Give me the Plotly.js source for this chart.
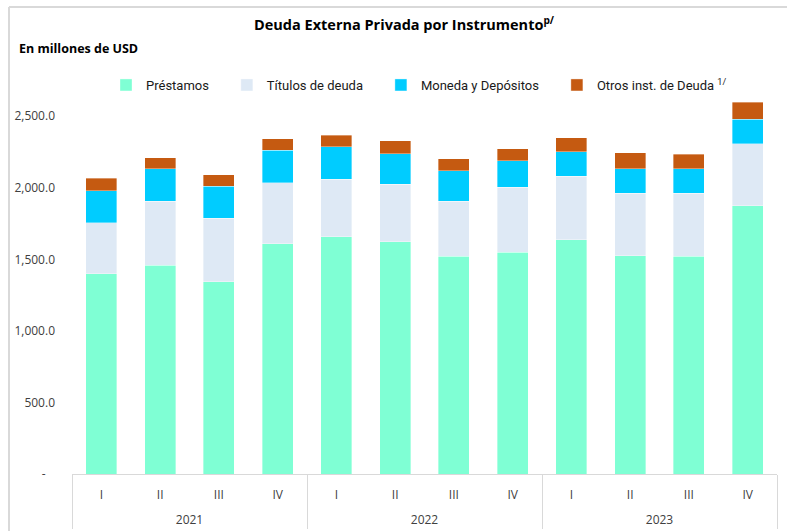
<!DOCTYPE html>
<html>
<head>
<meta charset="utf-8">
<script src="https://cdn.plot.ly/plotly-3.0.1.min.js"></script>
<style>html,body{margin:0;padding:0;background:#fff;}#chart{width:787px;height:531px;}</style>
</head>
<body>
<div id="chart"></div>
<script>
const years = ["2021","2021","2021","2021","2022","2022","2022","2022","2023","2023","2023","2023"];
const quarters = ["I","II","III","IV","I","II","III","IV","I","II","III","IV"];
const prestamos = [1400, 1458, 1344, 1610, 1658, 1624, 1521, 1549, 1638, 1524, 1521, 1873];
const titulos   = [356, 447, 442, 426, 403, 400, 384, 456, 442, 439, 442, 433];
const moneda    = [224, 226, 226, 225, 226, 212, 214, 184, 170, 168, 168, 174];
const otros     = [88, 79, 79, 82, 79, 93, 84, 84, 98, 112, 102, 119];
const seriesNames = ["Préstamos", "Títulos de deuda", "Moneda y Depósitos", "Otros inst. de Deuda <sup>1/</sup>"];
const yTickVals = [0, 500, 1000, 1500, 2000, 2500];
const yTickText = ["-\u00a0\u00a0\u00a0", "500.0", "1,000.0", "1,500.0", "2,000.0", "2,500.0"];

const colors = ["#7FFFD4", "#DEE9F5", "#00CCFF", "#C55A11"];
const txtFont = "Roboto";
const ui = "Open Sans";
const values = [prestamos, titulos, moneda, otros];
const pad = "\u00a0\u00a0\u00a0\u00a0";
const yearLabels = years.map(y => "<br>" + y);

const traces = values.map((v, i) => ({
  type: "bar",
  name: i < 3 ? seriesNames[i] + pad : seriesNames[i],
  x: [yearLabels, quarters],
  y: v,
  marker: {color: colors[i], line: {color: "rgba(255,255,255,0.6)", width: 0.6}},
  hoverinfo: "y+name"
}));

const W = 705, H = 375, L = 72, B = 474;
const px = (p) => (p - L) / W;
const py = (p) => (B - p) / H;

const layout = {
  width: 787, height: 531,
  margin: {l: 72, r: 10, t: 99, b: 57},
  paper_bgcolor: "#ffffff",
  plot_bgcolor: "#ffffff",
  barmode: "stack",
  bargap: 0.47,
  showlegend: true,
  title: {
    text: "<b>Deuda Externa Privada por Instrumento<sup>p/</sup></b>",
    font: {family: ui, size: 14.5, color: "#000000"},
    x: 404 / 787, xref: "container", xanchor: "center",
    y: 1 - 25 / 531, yref: "container", yanchor: "middle"
  },
  legend: {
    orientation: "h",
    x: px(106), xanchor: "left",
    y: py(85), yanchor: "middle", yref: "paper",
    font: {family: txtFont, size: 13, color: "#1a1a1a"},
    itemwidth: 30,
    traceorder: "normal",
    bgcolor: "rgba(0,0,0,0)"
  },
  xaxis: {
    type: "multicategory",
    showline: true, linecolor: "#d9d9d9", linewidth: 1,
    showdividers: true, dividercolor: "#d9d9d9", dividerwidth: 1,
    ticks: "", showgrid: false,
    ticklabelstandoff: 10,
    tickfont: {family: ui, size: 12, color: "#404040"},
    fixedrange: true
  },
  yaxis: {
    range: [0, 2620],
    tickvals: yTickVals, ticktext: yTickText,
    showgrid: false, zeroline: false, showline: false,
    ticks: "", ticklabelstandoff: 16,
    tickfont: {family: ui, size: 12, color: "#404040"},
    fixedrange: true
  },
  annotations: [{
    text: "<b>En millones de USD</b>",
    xref: "paper", yref: "paper",
    x: px(17), y: py(48),
    xanchor: "left", yanchor: "middle",
    showarrow: false,
    font: {family: ui, size: 12.5, color: "#000000"}
  }],
  shapes: [
    {type: "line", xref: "paper", yref: "paper", x0: px(9), x1: px(9), y0: py(7), y1: py(531), line: {color: "#d9d9d9", width: 2}},
    {type: "line", xref: "paper", yref: "paper", x0: px(9), x1: px(787), y0: py(7), y1: py(7), line: {color: "#d9d9d9", width: 2}}
  ]
};

Plotly.newPlot("chart", traces, layout, {displayModeBar: false, staticPlot: true});
</script>
</body>
</html>
